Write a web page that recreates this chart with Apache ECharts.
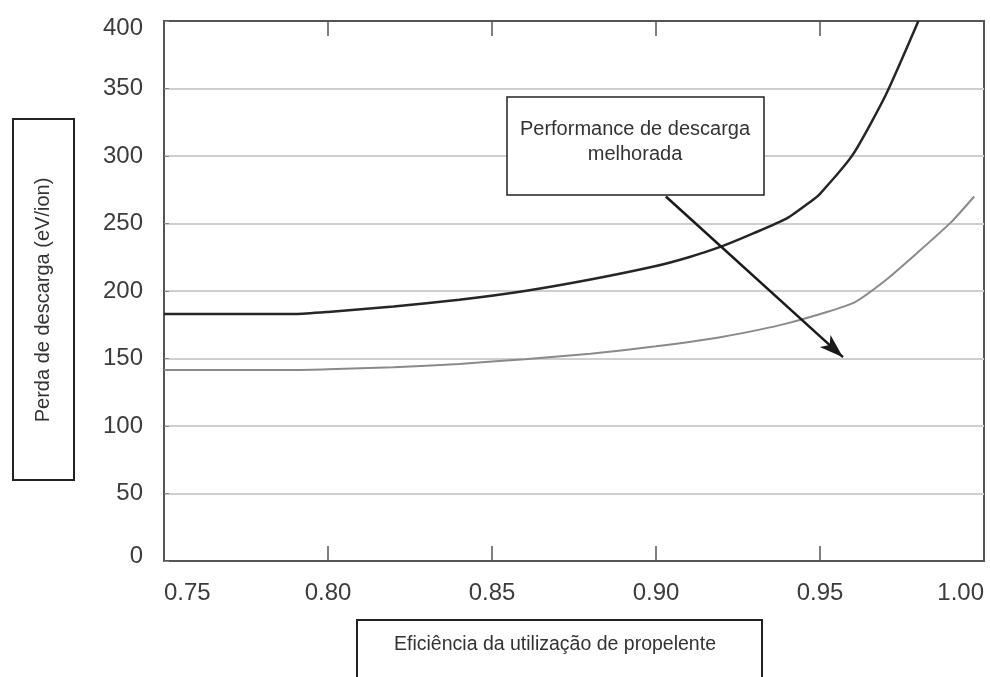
<!DOCTYPE html>
<html>
<head>
<meta charset="utf-8">
<script src="https://cdn.jsdelivr.net/npm/echarts@6/dist/echarts.min.js"></script>
<style>
  html, body { margin: 0; padding: 0; background: #fff; }
  #chart { width: 990px; height: 677px; }
</style>
</head>
<body>
<div id="chart"></div>
<script>
// Discharge loss versus propellant utilization efficiency
const baseEff  = [0.75, 0.79, 0.80, 0.82, 0.84, 0.86, 0.88, 0.90, 0.91, 0.92, 0.93, 0.94, 0.947, 0.95, 0.96, 0.97, 0.98];
const baseLoss = [183, 183, 184.5, 188.5, 193.5, 200, 208.5, 218.5, 225, 233, 243, 254, 266, 272, 301, 345, 400];

const improvedEff  = [0.75, 0.79, 0.80, 0.82, 0.84, 0.86, 0.88, 0.90, 0.92, 0.94, 0.96, 0.97, 0.98, 0.99, 0.997];
const improvedLoss = [141.5, 141.5, 142, 143.5, 146, 149.5, 153.5, 159, 166, 176, 191, 208, 229, 251, 270];

// Axis ranges
const xRange = { min: 0.75, max: 1.00, step: 0.05 };
const yRange = { min: 0, max: 400, step: 50 };

// Arrow pointing toward the improved curve (data coordinates)
const arrowFrom = [0.903, 270];
const arrowTo   = [0.957, 151];

const annotationText = 'Performance de descarga\nmelhorada';
const xTitle = 'Eficiência da utilização de propelente';
const yTitle = 'Perda de descarga (eV/ion)';

const pairs = (xs, ys) => xs.map((x, i) => [x, ys[i]]);

const FONT = '"Liberation Sans", Arial, sans-serif';
const TICK_FONT = { fontSize: 24, color: '#3c3c3c', fontFamily: FONT };
const chart = echarts.init(document.getElementById('chart'), null, { renderer: 'canvas' });

chart.setOption({
  backgroundColor: '#fff',
  animation: false,
  grid: {
    left: 164, right: 6, top: 21, bottom: 116,
    show: true, borderColor: '#555', borderWidth: 2, backgroundColor: 'transparent'
  },
  xAxis: [{
    type: 'value', min: xRange.min, max: xRange.max, interval: xRange.step,
    position: 'bottom',
    axisLine: { show: true, lineStyle: { color: '#555', width: 2 } },
    axisTick: { show: true, inside: true, length: 15, lineStyle: { color: '#555', width: 1.5 } },
    splitLine: { show: false },
    axisLabel: Object.assign({
      margin: 20,
      alignMinLabel: 'left', alignMaxLabel: 'right',
      formatter: v => v.toFixed(2)
    }, TICK_FONT)
  }, {
    type: 'value', min: xRange.min, max: xRange.max, interval: xRange.step,
    position: 'top',
    axisLine: { show: true, lineStyle: { color: '#555', width: 2 } },
    axisTick: { show: true, inside: true, length: 15, lineStyle: { color: '#555', width: 1.5 } },
    axisLabel: { show: false },
    splitLine: { show: false }
  }],
  yAxis: {
    type: 'value', min: yRange.min, max: yRange.max, interval: yRange.step,
    axisLine: { show: true, lineStyle: { color: '#555', width: 2 } },
    axisTick: { show: true, inside: true, length: 5, lineStyle: { color: '#888', width: 1 } },
    splitLine: { show: true, lineStyle: { color: '#cfcfcf', width: 2 } },
    axisLabel: Object.assign({
      margin: 21,
      // end labels sit slightly inside the plot range
      formatter: v => v === yRange.max ? '{hi|' + v + '}' : (v === yRange.min ? '{lo|' + v + '}' : String(v)),
      rich: {
        hi: Object.assign({ padding: [14, 0, 0, 0] }, TICK_FONT),
        lo: Object.assign({ padding: [0, 0, 10, 0] }, TICK_FONT)
      }
    }, TICK_FONT)
  },
  series: [{
    name: 'base',
    type: 'line',
    data: pairs(baseEff, baseLoss),
    showSymbol: false,
    smooth: 0.2,
    lineStyle: { color: '#262626', width: 2.5 },
    z: 3
  }, {
    name: 'improved',
    type: 'line',
    data: pairs(improvedEff, improvedLoss),
    showSymbol: false,
    smooth: 0.2,
    lineStyle: { color: '#8a8a8a', width: 2 },
    z: 2,
    markLine: {
      silent: true,
      symbol: ['none', 'arrow'],
      symbolSize: [12, 24],
      label: { show: false },
      lineStyle: { color: '#1a1a1a', width: 2.5, type: 'solid' },
      data: [[{ coord: arrowFrom }, { coord: arrowTo }]]
    }
  }],
  graphic: [
    // annotation box
    {
      type: 'rect', z: 100, shape: { x: 507, y: 97, width: 257, height: 98 },
      style: { fill: '#fff', stroke: '#222', lineWidth: 1.5 }
    }, {
      type: 'text', z: 101, x: 635, y: 117,
      style: {
        text: annotationText, fill: '#333', font: '20px ' + FONT,
        align: 'center', verticalAlign: 'top', lineHeight: 25
      }
    },
    // y-axis title box
    {
      type: 'rect', z: 100, shape: { x: 13, y: 119, width: 61, height: 361 },
      style: { fill: '#fff', stroke: '#222', lineWidth: 2 }
    }, {
      type: 'text', z: 101, x: 43, y: 300, rotation: Math.PI / 2,
      style: {
        text: yTitle, fill: '#333', font: '20px ' + FONT,
        align: 'center', verticalAlign: 'middle'
      }
    },
    // x-axis title box
    {
      type: 'rect', z: 100, shape: { x: 357, y: 620, width: 405, height: 70 },
      style: { fill: '#fff', stroke: '#222', lineWidth: 2 }
    }, {
      type: 'text', z: 101, x: 555, y: 645,
      style: {
        text: xTitle, fill: '#333', font: '19.5px ' + FONT,
        align: 'center', verticalAlign: 'middle'
      }
    }
  ]
});
</script>
</body>
</html>
